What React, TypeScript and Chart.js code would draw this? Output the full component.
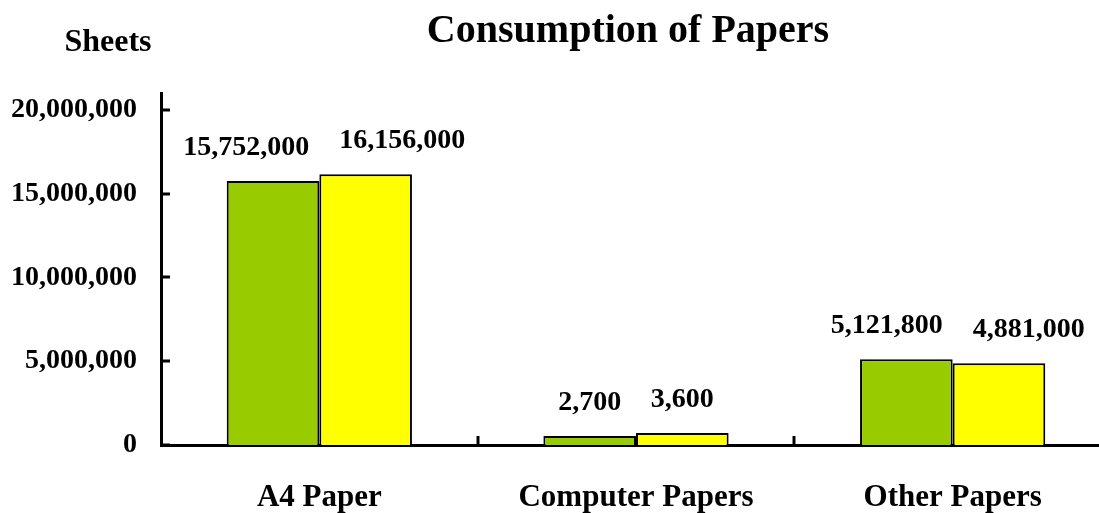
import React, { useEffect, useRef } from "react";
import { Chart, registerables } from "chart.js";

Chart.register(...registerables);

const categories = ["A4 Paper", "Computer Papers", "Other Papers"];
const greenValues = [15752000, 540000, 5121800];
const yellowValues = [16156000, 720000, 4881000];
const greenLabels = ["15,752,000", "2,700", "5,121,800"];
const yellowLabels = ["16,156,000", "3,600", "4,881,000"];
const yTicks = [0, 5000000, 10000000, 15000000, 20000000];
const yMax = 21000000;
const titleText = "Consumption of Papers";
const yTitleText = "Sheets";

const FONT = "'Liberation Serif', 'Times New Roman', serif";
const CANVAS_W = 1120;
const CANVAS_H = 513;

const decorPlugin = {
  id: "decor",
  afterDraw(chart: any) {
    const ctx = chart.ctx;
    const area = chart.chartArea;
    const xs = chart.scales.x;
    const ys = chart.scales.y;
    ctx.save();
    ctx.strokeStyle = "#000";
    ctx.lineWidth = 3;
    ys.ticks.forEach((t: any) => {
      const py = Math.round(ys.getPixelForValue(t.value));
      ctx.beginPath();
      ctx.moveTo(area.left, py);
      ctx.lineTo(area.left + 9, py);
      ctx.stroke();
    });
    for (let i = 1; i < categories.length; i++) {
      const px = Math.round((xs.getPixelForValue(i - 1) + xs.getPixelForValue(i)) / 2);
      ctx.beginPath();
      ctx.moveTo(px, area.bottom);
      ctx.lineTo(px, area.bottom - 9);
      ctx.stroke();
    }
    ctx.fillStyle = "#000";
    ctx.textBaseline = "middle";
    ctx.font = `bold 28px ${FONT}`;
    const gMeta = chart.getDatasetMeta(0);
    const yMeta = chart.getDatasetMeta(1);
    categories.forEach((_, i) => {
      const g = gMeta.data[i];
      const y = yMeta.data[i];
      const gw = ctx.measureText(greenLabels[i]).width;
      const yw = ctx.measureText(yellowLabels[i]).width;
      const center = xs.getPixelForValue(i);
      let gx = g.x - gw / 2;
      let yx = y.x - yw / 2;
      if (gx + gw + 10 > yx) {
        gx = center - 10 - gw;
        yx = center + 20;
      }
      ctx.textAlign = "left";
      ctx.fillText(greenLabels[i], gx, g.y - 33);
      ctx.fillText(yellowLabels[i], yx, y.y - 33);
    });
    ctx.textAlign = "center";
    ctx.font = `bold 40px ${FONT}`;
    ctx.fillText(titleText, 628, 32);
    ctx.font = `bold 32px ${FONT}`;
    ctx.fillText(yTitleText, 108, 43);
    ctx.restore();
  },
};

export default function App() {
  const ref = useRef<HTMLCanvasElement | null>(null);
  useEffect(() => {
    if (!ref.current) return;
    const chart = new Chart(ref.current, {
      type: "bar",
      data: {
        labels: categories,
        datasets: [
          {
            data: greenValues,
            backgroundColor: "#99CC00",
            borderColor: "#000",
            borderWidth: 2,
            categoryPercentage: 0.585,
            barPercentage: 1,
          },
          {
            data: yellowValues,
            backgroundColor: "#FFFF00",
            borderColor: "#000",
            borderWidth: 2,
            categoryPercentage: 0.585,
            barPercentage: 1,
          },
        ],
      },
      options: {
        responsive: false,
        animation: false,
        layout: { padding: { top: 93, right: CANVAS_W - 1111, left: 0, bottom: 0 } },
        plugins: { legend: { display: false }, title: { display: false }, tooltip: { enabled: false } },
        scales: {
          x: {
            grid: { display: false, drawTicks: false },
            border: { display: true, color: "#000", width: 3 },
            ticks: { color: "#000", font: { family: FONT, size: 31, weight: "bold" }, padding: 34, maxRotation: 0 },
            afterFit: (s: any) => { s.height = 68; },
          },
          y: {
            min: 0,
            max: yMax,
            grid: { display: false, drawTicks: false },
            border: { display: true, color: "#000", width: 3 },
            afterBuildTicks: (s: any) => { s.ticks = yTicks.map((v) => ({ value: v })); },
            ticks: {
              color: "#000",
              font: { family: FONT, size: 28, weight: "bold" },
              padding: 24,
              callback: (v: any) => Number(v).toLocaleString("en-US"),
            },
            afterFit: (s: any) => { s.width = 161; },
          },
        },
      },
      plugins: [decorPlugin],
    });
    return () => chart.destroy();
  }, []);
  return (
    <div style={{ position: "fixed", left: 0, top: 0, width: 1099, height: 513, overflow: "hidden", background: "#fff" }}>
      <canvas ref={ref} width={CANVAS_W} height={CANVAS_H} style={{ display: "block" }} />
    </div>
  );
}
